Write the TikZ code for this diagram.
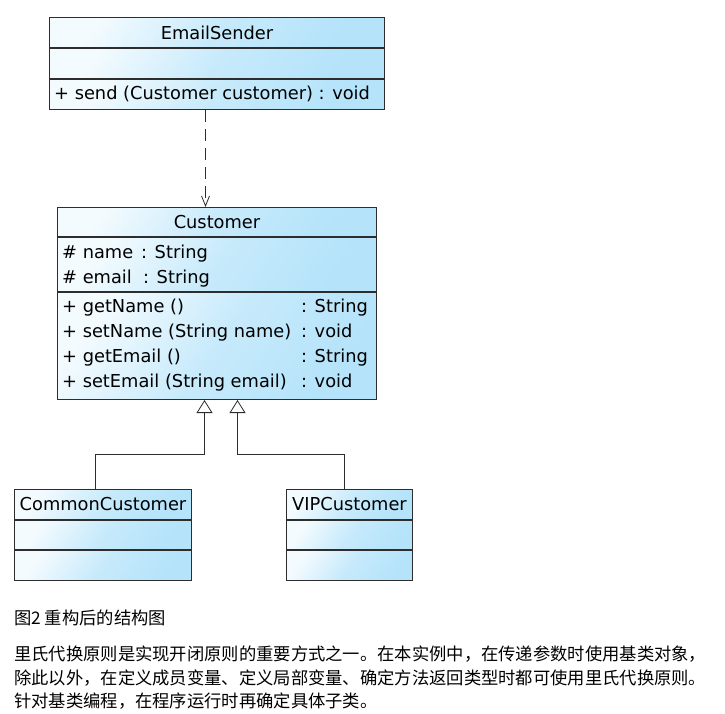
\documentclass[tikz,border=0pt]{standalone}
\usepackage{fontspec}
\setmainfont{DejaVu Sans}
\newfontfamily\cjk{Noto Sans CJK SC}
\usepackage{xcolor}
\usetikzlibrary{
    arrows.meta,
    calc,
    positioning
}
\definecolor{umlblue}{RGB}{180,227,250}
\definecolor{umlline}{RGB}{45,45,45}
\newcommand\umlfont{\fontsize{17.8}{20}\selectfont}
\newcommand\cjkfont{\cjk\fontsize{17.3}{23.5}\selectfont}
\tikzset{
    compart/.style={draw=umlline, line width=1pt, left color=umlblue!15, right color=umlblue,
        middle color=umlblue!75, shading angle=55, inner sep=0pt, anchor=north west, font=\umlfont},
    member/.style={anchor=base west, inner sep=0pt, font=\umlfont},
    dependency/.style={umlline, line width=0.8pt, dash pattern=on 12pt off 7pt,
        -{Straight Barb[length=10pt, width=8pt]}},
    generalization/.style={umlline, line width=0.8pt,
        -{Triangle[open, length=13pt, width=16pt, fill=white]}}
}

\begin{document}
\begin{tikzpicture}[x=1pt, y=-1pt]
    \useasboundingbox (0,0) rectangle (725,713);

    % EmailSender
    \node[compart, minimum width=335pt, minimum height=30pt] (es-title) at (49,17) {EmailSender};
    \node[compart, minimum width=335pt, minimum height=30pt] (es-attr) at (es-title.south west) {};
    \node[compart, minimum width=335pt, minimum height=30pt] (es-meth) at (es-attr.south west) {};
    \node[member] (es-send) at (54,99) {+ send (Customer customer) : void};

    % Customer
    \node[compart, minimum width=319pt, minimum height=29pt] (cu-title) at (57,207) {Customer};
    \node[compart, minimum width=319pt, minimum height=54pt] (cu-attr) at (cu-title.south west) {};
    \node[compart, minimum width=319pt, minimum height=107pt] (cu-meth) at (cu-attr.south west) {};
    \node[member] (cu-name) at (62,258) {\# name};
    \node[member] (cu-name-t) at (141,258) {: String};
    \node[member] (cu-email) at (62,283) {\# email};
    \node[member] (cu-email-t) at (143,283) {: String};
    \node[member] (cu-getname) at (62,312) {+ getName ()};
    \node[member] (cu-getname-t) at (301,312) {: String};
    \node[member] (cu-setname) at (62,337) {+ setName (String name)};
    \node[member] (cu-setname-t) at (301,337) {: void};
    \node[member] (cu-getemail) at (62,362) {+ getEmail ()};
    \node[member] (cu-getemail-t) at (301,362) {: String};
    \node[member] (cu-setemail) at (62,387) {+ setEmail (String email)};
    \node[member] (cu-setemail-t) at (301,387) {: void};

    % subclasses
    \node[compart, minimum width=177pt, minimum height=30pt] (cc-title) at (14,489) {CommonCustomer};
    \node[compart, minimum width=177pt, minimum height=29pt] (cc-attr) at (cc-title.south west) {};
    \node[compart, minimum width=177pt, minimum height=30pt] (cc-meth) at (cc-attr.south west) {};
    \node[compart, minimum width=126pt, minimum height=30pt] (vip-title) at (286,489) {VIPCustomer};
    \node[compart, minimum width=126pt, minimum height=29pt] (vip-attr) at (vip-title.south west) {};
    \node[compart, minimum width=126pt, minimum height=30pt] (vip-meth) at (vip-attr.south west) {};

    % connectors
    \draw[dependency] ([xshift=-11.5pt]es-meth.south) -- ([xshift=-11.5pt]cu-title.north);
    \draw[generalization] ([xshift=-7.5pt]cc-title.north) -- ++(0,-35) -| ([xshift=-12.5pt]cu-meth.south);
    \draw[generalization] ([xshift=-5pt]vip-title.north) -- ++(0,-35) -| ([xshift=20.5pt]cu-meth.south);

    % caption and text
    \node[anchor=base west, inner sep=0pt, font=\cjkfont] (caption) at (14,624) {图2 重构后的结构图};
    \node[anchor=north west, inner sep=0pt, align=left, font=\cjkfont] (para) at (14,646)
        {里氏代换原则是实现开闭原则的重要方式之一。在本实例中，在传递参数时使用基类对象，\\
         除此以外，在定义成员变量、定义局部变量、确定方法返回类型时都可使用里氏代换原则。\\
         针对基类编程，在程序运行时再确定具体子类。};
\end{tikzpicture}
\end{document}
